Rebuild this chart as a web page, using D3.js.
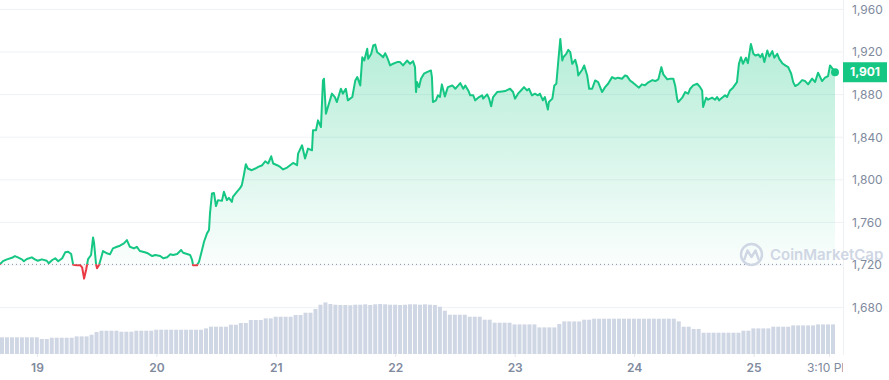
<!DOCTYPE html>
<html><head><meta charset="utf-8">
<script src="https://cdn.jsdelivr.net/npm/d3@7/dist/d3.min.js"></script>
<style>
html,body{margin:0;padding:0;background:#fff;}
svg{display:block;font-family:Inter,"Noto Sans",sans-serif;}
</style></head>
<body><svg id="c" width="889" height="380"></svg>
<script>
// ---- data ----
const startTime = "2023-04-18T16:34:00Z";
const hours = [0,0.6,1.4,2.4,3.0,3.6,4.4,4.8,5.4,6.4,7.0,7.6,8.4,9.4,9.8,10.5,11.1,11.7,12.5,13.1,13.7,14.3,14.7,15.5,16.1,16.5,16.9,17.3,17.7,18.3,18.7,18.9,19.3,19.5,19.9,20.3,20.7,21.5,22.1,22.7,23.5,24.1,24.9,25.5,26.1,26.9,27.5,28.1,29.1,29.7,30.6,31.2,32.2,32.8,33.6,34.2,34.8,35.6,36.4,36.8,37.6,38.2,38.6,38.8,39.6,40.0,40.6,41.0,41.6,42.0,42.2,42.6,43.0,43.4,43.8,44.6,45.0,45.6,46.0,46.6,46.8,47.6,48.2,48.6,49.0,49.4,49.8,50.6,51.3,51.9,52.7,53.3,53.9,54.5,54.9,55.7,56.3,56.9,57.7,58.3,58.9,59.7,59.9,60.7,61.3,61.9,62.7,62.9,63.5,63.9,64.5,64.9,65.1,65.5,65.9,66.7,67.3,67.7,68.5,68.9,69.5,69.9,70.8,71.4,71.8,72.4,72.8,73.2,73.8,74.0,74.6,75.0,75.4,75.8,76.4,77.0,77.4,77.8,78.4,79.0,79.8,80.4,81.0,81.8,82.4,83.0,83.4,83.6,83.8,84.2,84.6,85.2,85.8,86.6,86.8,87.0,87.6,88.0,88.4,88.8,89.4,90.0,90.9,91.5,92.1,92.5,93.1,93.5,94.1,94.5,95.1,95.5,96.1,96.9,97.1,97.9,98.3,98.7,99.1,99.9,100.9,101.5,102.1,102.5,103.1,103.5,104.1,104.7,105.3,105.9,106.3,106.9,107.5,108.1,108.5,109.1,109.5,110.1,110.3,111.0,111.4,111.8,112.2,112.6,113.0,113.2,113.8,114.2,114.6,115.0,115.6,116.0,116.2,117.0,117.4,118.0,118.4,119.0,119.6,120.2,121.0,121.6,122.2,123.0,123.6,124.2,125.0,125.6,126.0,126.6,127.2,128.0,128.4,129.0,129.6,130.2,131.1,131.7,132.3,132.9,133.3,134.1,134.7,135.3,135.7,136.1,136.3,137.1,137.7,138.3,138.7,139.3,140.1,140.7,141.1,141.3,141.9,142.3,143.1,143.7,144.1,144.5,145.1,145.7,146.1,146.7,147.3,148.1,148.5,148.9,149.3,149.9,150.3,150.9,151.4,151.8,152.4,152.8,153.2,153.6,154.2,154.6,155.2,155.6,156.2,156.6,157.2,157.8,158.4,159.0,159.4,159.8,160.4,161.2,161.8,162.4,163.2,163.8,164.4,165.2,165.8,166.4,166.8,167.4,167.8];
const prices = [1720.6,1723.7,1725.3,1726.8,1728.4,1727.2,1725.3,1723.5,1725.6,1727.2,1725.3,1724.0,1725.3,1724.0,1721.6,1724.7,1726.3,1723.5,1726.3,1731.9,1732.5,1730.3,1720.3,1719.7,1719.9,1717.8,1707.2,1715.3,1725.6,1729.4,1745.9,1740.9,1720.7,1716.9,1720.0,1726.3,1733.1,1731.0,1730.0,1735.6,1737.1,1738.1,1740.3,1743.4,1737.1,1735.6,1737.1,1733.1,1731.9,1731.0,1728.4,1729.4,1728.4,1726.3,1727.2,1730.0,1729.4,1730.3,1734.1,1731.5,1730.3,1729.4,1724.7,1719.8,1719.8,1723.1,1734.1,1741.8,1749.7,1752.8,1768.4,1787.2,1787.7,1775.3,1780.9,1780.2,1788.7,1780.9,1783.0,1779.3,1784.0,1788.7,1791.9,1795.0,1804.3,1814.6,1810.6,1809.0,1810.6,1812.1,1813.7,1817.4,1815.3,1822.1,1815.3,1813.7,1812.1,1809.7,1811.5,1813.7,1815.8,1813.7,1824.6,1832.4,1820.0,1829.3,1827.7,1846.5,1846.5,1855.8,1849.6,1893.3,1894.9,1862.1,1868.3,1880.9,1877.7,1873.0,1885.5,1880.9,1885.5,1874.6,1877.7,1893.3,1896.4,1888.6,1915.1,1912.0,1923.0,1913.6,1918.3,1926.1,1927.0,1919.8,1917.7,1915.1,1918.9,1915.1,1907.4,1909.0,1910.5,1910.5,1907.4,1912.0,1909.0,1911.4,1905.8,1882.4,1891.8,1887.0,1894.9,1899.6,1901.1,1902.7,1896.4,1873.0,1874.6,1879.3,1877.7,1889.6,1878.3,1887.0,1888.6,1885.5,1888.6,1890.8,1885.5,1888.6,1883.9,1879.3,1879.3,1874.6,1877.1,1879.3,1876.2,1880.2,1876.2,1869.0,1877.7,1882.4,1883.0,1883.3,1884.6,1885.5,1882.4,1876.2,1880.9,1883.9,1887.0,1883.9,1885.5,1879.3,1880.9,1879.3,1880.9,1874.6,1877.7,1865.9,1873.0,1876.2,1888.6,1890.2,1912.0,1932.3,1912.0,1915.1,1918.3,1922.0,1919.8,1908.9,1912.7,1905.8,1898.0,1903.3,1907.4,1898.0,1885.5,1885.5,1893.3,1891.7,1882.4,1887.0,1890.2,1896.4,1894.9,1895.9,1894.9,1898.0,1897.4,1893.3,1891.2,1888.0,1886.5,1889.6,1888.7,1891.2,1893.6,1892.7,1894.3,1905.8,1899.0,1894.3,1895.0,1895.0,1888.0,1875.6,1873.0,1877.1,1882.4,1880.9,1885.5,1888.6,1890.2,1887.0,1883.9,1868.3,1877.1,1875.2,1877.1,1875.2,1877.7,1874.6,1877.1,1879.3,1877.7,1883.9,1886.5,1891.7,1909.0,1915.1,1909.0,1914.6,1909.5,1927.6,1918.3,1916.7,1917.7,1915.1,1918.3,1910.5,1921.4,1915.8,1920.8,1914.6,1918.3,1913.6,1909.5,1907.4,1905.8,1899.6,1891.7,1888.0,1889.6,1893.6,1892.7,1889.6,1895.0,1891.8,1900.6,1892.7,1895.9,1897.4,1907.4,1903.7,1901.0];
// hourly volume (arbitrary units, estimated)
const volumes = [16.7,16.7,16.7,16.7,16.7,16.7,16.7,16.7,15.0,15.0,16.3,16.3,16.3,16.3,16.3,17.6,17.6,17.6,19.3,22.0,23.3,23.3,23.3,23.3,22.3,22.3,22.3,23.3,23.3,23.3,23.3,24.3,24.3,24.3,24.3,24.3,24.3,24.3,24.3,24.3,24.3,25.6,27.3,27.3,27.3,27.3,29.3,29.3,31.0,31.0,34.0,34.0,34.0,35.6,35.6,37.3,37.3,37.3,37.3,39.0,39.0,41.3,41.3,45.0,49.3,51.6,50.0,49.3,49.0,49.0,48.7,49.3,49.3,49.7,49.0,49.7,50.0,49.7,49.3,49.3,49.0,49.3,49.7,49.7,49.3,49.7,49.3,49.0,47.3,43.3,39.3,39.3,39.3,39.3,37.3,37.3,37.3,34.3,34.3,31.3,31.3,31.3,31.3,29.6,29.6,29.6,29.6,29.6,26.6,26.6,26.6,26.6,30.0,32.6,32.6,32.6,32.6,34.3,34.3,35.3,35.3,35.3,35.3,35.3,35.3,35.3,35.3,35.3,35.3,35.3,35.3,35.3,35.3,35.3,35.3,35.3,32.6,27.3,27.3,25.0,25.0,21.3,21.3,21.3,21.3,21.3,21.3,21.3,21.3,23.3,23.3,25.6,25.6,25.6,25.6,27.3,27.3,27.3,27.3,28.6,28.6,28.6,28.6,28.6,29.6,29.6,29.6,29.6];
const priceTicks = [1680,1720,1760,1800,1840,1880,1920,1960];
const dayTicks = ["2023-04-19","2023-04-20","2023-04-21","2023-04-22","2023-04-23","2023-04-24","2023-04-25"];
const nowTick = "2023-04-25T15:10:00Z";
const nowLabel = "3:10 PM";
const lastPriceLabel = "1,901";

// ---- layout ----
const W = 889, H = 380;
const plotRight = 843, dataRight = 835;
const t0 = new Date(startTime).getTime();
const HOUR = 3600e3;
const data = hours.map((h,i)=>({t:new Date(t0+h*HOUR), p:prices[i]}));
const base = prices[0];

const svg = d3.select("#c");
const x = d3.scaleUtc().domain(d3.extent(data,d=>d.t)).range([0,dataRight]);
const y = d3.scaleLinear().domain([1680,1960]).range([307.6,9.4]);
const vy = d3.scaleLinear().domain([0,d3.max(volumes)]).range([354,302.4]);

const defs = svg.append("defs");
const g1 = defs.append("linearGradient").attr("id","gUp").attr("gradientUnits","userSpaceOnUse")
  .attr("x1",0).attr("x2",0).attr("y1",y(d3.max(prices))).attr("y2",y(base));
g1.append("stop").attr("offset",0).attr("stop-color","#16c784").attr("stop-opacity",0.32);
g1.append("stop").attr("offset",1).attr("stop-color","#16c784").attr("stop-opacity",0.02);
const g2 = defs.append("linearGradient").attr("id","gDn").attr("gradientUnits","userSpaceOnUse")
  .attr("x1",0).attr("x2",0).attr("y1",y(base)).attr("y2",y(d3.min(prices)));
g2.append("stop").attr("offset",0).attr("stop-color","#ea3943").attr("stop-opacity",0.02);
g2.append("stop").attr("offset",1).attr("stop-color","#ea3943").attr("stop-opacity",0.25);
defs.append("clipPath").attr("id","cUp").append("rect").attr("x",-5).attr("y",0).attr("width",W).attr("height",y(base));
defs.append("clipPath").attr("id","cDn").append("rect").attr("x",-5).attr("y",y(base)).attr("width",W).attr("height",H);
defs.append("clipPath").attr("id","cX").append("rect").attr("x",0).attr("y",0).attr("width",plotRight).attr("height",H);

// gridlines
svg.append("g").selectAll("line").data(priceTicks).join("line")
  .attr("x1",0).attr("x2",plotRight).attr("y1",d=>y(d)).attr("y2",d=>y(d))
  .attr("stroke","#eff2f5").attr("stroke-width",1);
// right axis line
svg.append("line").attr("x1",plotRight+0.5).attr("x2",plotRight+0.5).attr("y1",0).attr("y2",355)
  .attr("stroke","#eff2f5");

// volume bars
const barW = x(new Date(t0+HOUR)) - x(new Date(t0));
svg.append("g").selectAll("rect").data(volumes).join("rect")
  .attr("x",(d,i)=>x(new Date(t0+i*HOUR)))
  .attr("width",barW-1)
  .attr("y",d=>vy(d)).attr("height",d=>vy(0)-vy(d))
  .attr("fill","#cfd6e4");

// areas
const area = d3.area().x(d=>x(d.t)).y0(y(base)).y1(d=>y(d.p));
svg.append("path").datum(data).attr("d",area).attr("fill","url(#gUp)").attr("clip-path","url(#cUp)");
svg.append("path").datum(data).attr("d",area).attr("fill","url(#gDn)").attr("clip-path","url(#cDn)");

// baseline dotted
svg.append("line").attr("x1",0).attr("x2",plotRight).attr("y1",y(base)).attr("y2",y(base))
  .attr("stroke","#8a93a6").attr("stroke-width",1).attr("stroke-dasharray","1,3");

// price line
const line = d3.line().x(d=>x(d.t)).y(d=>y(d.p));
svg.append("path").datum(data).attr("d",line).attr("fill","none").attr("stroke","#16c784")
  .attr("stroke-width",2).attr("stroke-linejoin","round").attr("clip-path","url(#cUp)");
svg.append("path").datum(data).attr("d",line).attr("fill","none").attr("stroke","#ea3943")
  .attr("stroke-width",2).attr("stroke-linejoin","round").attr("clip-path","url(#cDn)");

// watermark
const wm = svg.append("g").attr("opacity",1);
wm.append("circle").attr("cx",751.5).attr("cy",254.5).attr("r",10.5).attr("fill","none").attr("stroke","#cfd6e4").attr("stroke-width",2.4);
wm.append("path").attr("d","M744.5,259 L747.5,250.5 L751.5,257 L755.5,250.5 L758.5,259")
  .attr("fill","none").attr("stroke","#cfd6e4").attr("stroke-width",2.4).attr("stroke-linejoin","round").attr("stroke-linecap","round");
wm.append("text").attr("x",770).attr("y",254.5).attr("dy","0.35em").attr("font-size",15).attr("font-weight",600)
  .attr("fill","#cfd6e4").text("CoinMarketCap");

// last price dot + tag
const last = data[data.length-1];
svg.append("circle").attr("cx",x(last.t)).attr("cy",y(last.p)).attr("r",4).attr("fill","#16c784");

// y axis
const yAxis = svg.append("g").attr("transform",`translate(${plotRight},0)`)
  .call(d3.axisRight(y).tickValues(priceTicks).tickFormat(d3.format(",")).tickSize(0).tickPadding(9));
yAxis.select(".domain").remove();
yAxis.selectAll("text").attr("fill","#808a9d").attr("font-size",12).attr("font-family","Inter,sans-serif");

const tagY = y(last.p);
svg.append("rect").attr("x",plotRight).attr("y",tagY-10).attr("width",44).attr("height",20).attr("fill","#16c784");
svg.append("text").attr("x",plotRight+22).attr("y",tagY).attr("dy","0.35em").attr("text-anchor","middle")
  .attr("fill","#fff").attr("font-size",12).attr("font-weight",700).text(lastPriceLabel);

// x axis
const xTickVals = dayTicks.map(d=>new Date(d+"T00:00:00Z")).concat([new Date(nowTick)]);
const fmtDay = d3.utcFormat("%-d");
const xAxis = svg.append("g").attr("transform","translate(0,354)").attr("clip-path","url(#cX)")
  .call(d3.axisBottom(x).tickValues(xTickVals).tickSize(3).tickPadding(6)
    .tickFormat((d,i)=> i<dayTicks.length ? fmtDay(d) : nowLabel));
xAxis.select(".domain").remove();
xAxis.selectAll(".tick line").attr("stroke","#e3e6ed");
xAxis.selectAll("text").attr("fill","#808a9d").attr("font-size",12).attr("font-family","Inter,sans-serif")
  .attr("font-weight",(d,i)=> i<dayTicks.length ? 600 : 400);
</script></body></html>
